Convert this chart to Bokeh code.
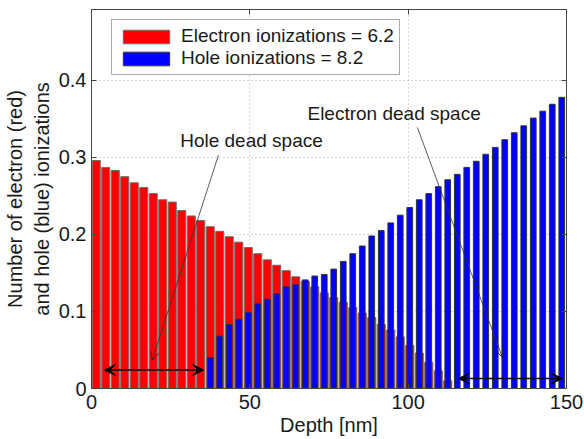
from bokeh.plotting import figure
from bokeh.models import (ColumnDataSource, Range1d, FixedTicker, LinearAxis, Legend, LegendItem,
                          Arrow, VeeHead, OpenHead, Label)
from bokeh.embed import file_html
from bokeh.resources import INLINE

# ---------------- data ----------------
depth = [1.5, 4.5, 7.5, 10.5, 13.5, 16.5, 19.5, 22.5, 25.5, 28.5,
         31.5, 34.5, 37.5, 40.5, 43.5, 46.5, 49.5, 52.5, 55.5, 58.5,
         61.5, 64.5, 67.5, 70.5, 73.5, 76.5, 79.5, 82.5, 85.5, 88.5,
         91.5, 94.5, 97.5, 100.5, 103.5, 106.5, 109.5, 112.5, 115.5, 118.5,
         121.5, 124.5, 127.5, 130.5, 133.5, 136.5, 139.5, 142.5, 145.5, 148.5]
electron = [0.296, 0.287, 0.283, 0.275, 0.267, 0.261, 0.253, 0.245, 0.242, 0.231,
            0.224, 0.218, 0.210, 0.204, 0.197, 0.190, 0.183, 0.175, 0.167, 0.160,
            0.153, 0.145, 0.139, 0.132, 0.124, 0.118, 0.112, 0.105, 0.098, 0.092,
            0.083, 0.076, 0.067, 0.056, 0.046, 0.034, 0.023, 0.010, 0.0, 0.0,
            0.0, 0.0, 0.0, 0.0, 0.0, 0.0, 0.0, 0.0, 0.0, 0.0]
hole = [0.0, 0.0, 0.0, 0.0, 0.0, 0.0, 0.0, 0.0, 0.0, 0.0,
        0.0, 0.0, 0.040, 0.068, 0.083, 0.090, 0.099, 0.110, 0.116, 0.123,
        0.132, 0.135, 0.141, 0.146, 0.148, 0.155, 0.165, 0.175, 0.185, 0.198,
        0.205, 0.215, 0.225, 0.235, 0.245, 0.253, 0.262, 0.271, 0.278, 0.287,
        0.295, 0.304, 0.313, 0.323, 0.332, 0.341, 0.351, 0.360, 0.369, 0.378]
legend_labels = ["Electron ionizations = 6.2", "Hole ionizations = 8.2"]
x_ticks = [0, 50, 100, 150]
y_ticks = [0, 0.1, 0.2, 0.3, 0.4]

# annotation anchors (data units)
hole_text = ("Hole dead space", 28.0, 0.322)
elec_text = ("Electron dead space", 68.2, 0.357)
hole_pointer = (40.1, 0.303, 19.2, 0.037)
elec_pointer = (102.9, 0.339, 129.7, 0.041)
hole_span = (4.1, 35.4, 0.024)
elec_span = (115.9, 148.7, 0.013)

FONT = "Liberation Sans"
TXT = "#1a1a1a"

src = ColumnDataSource(dict(depth=depth, electron=electron, hole=hole))

p = figure(width=584, height=439, output_backend="svg", toolbar_location=None,
           x_range=Range1d(0, 150), y_range=Range1d(0, 0.492),
           min_border_left=91, min_border_right=18, min_border_top=9, min_border_bottom=51)
p.background_fill_color = "white"
p.border_fill_color = "white"
p.outline_line_color = "#444444"
p.outline_line_width = 1

r_el = p.vbar(x="depth", top="electron", width=2.55, source=src,
              fill_color="#ff0000", line_color="#6e6e6e", line_width=1)
r_ho = p.vbar(x="depth", top="hole", width=1.8, source=src,
              fill_color="#0000ff", line_color="#333333", line_width=1)

for ax in (p.xaxis[0], p.yaxis[0]):
    ax.axis_line_color = "#444444"
    ax.major_tick_in = 5
    ax.major_tick_out = 0
    ax.minor_tick_line_color = None
    ax.major_tick_line_color = "#444444"
    ax.major_label_text_font = FONT
    ax.major_label_text_font_size = "20px"
    ax.major_label_text_color = TXT
    ax.axis_label_text_font = FONT
    ax.axis_label_text_font_size = "20px"
    ax.axis_label_text_font_style = "normal"
    ax.axis_label_text_color = TXT

p.xaxis.ticker = FixedTicker(ticks=x_ticks)
p.yaxis.ticker = FixedTicker(ticks=y_ticks)
p.xaxis.axis_label = "Depth [nm]"
p.yaxis.axis_label = "Number of electron (red)\nand hole (blue) ionizations"
p.xaxis.major_label_standoff = 6
p.yaxis.major_label_standoff = 5
p.xaxis.axis_label_standoff = 2
p.yaxis.axis_label_standoff = 3

# ticks on top / right (box on), without labels
for loc, tk in (("right", y_ticks), ("above", x_ticks)):
    ax2 = LinearAxis(ticker=FixedTicker(ticks=tk))
    ax2.major_tick_in = 5
    ax2.major_tick_out = 0
    ax2.minor_tick_line_color = None
    ax2.major_tick_line_color = "#444444"
    ax2.axis_line_color = None
    ax2.major_label_text_color = None
    ax2.major_label_text_font_size = "1px"
    ax2.major_label_standoff = 0
    p.add_layout(ax2, loc)

p.grid.grid_line_color = "#b0b0b0"
p.grid.grid_line_dash = "1 3"
p.grid.grid_line_width = 1
p.xgrid.ticker = FixedTicker(ticks=x_ticks)
p.ygrid.ticker = FixedTicker(ticks=y_ticks)

# annotations
for (t, tx, ty) in (hole_text, elec_text):
    p.add_layout(Label(x=tx, y=ty, text=t, text_font=FONT, text_font_size="19px",
                       text_color=TXT, text_baseline="middle", text_align="left"))
for (xs, ys, xe, ye) in (hole_pointer, elec_pointer):
    p.add_layout(Arrow(x_start=xs, y_start=ys, x_end=xe, y_end=ye,
                       line_color="#333333", line_width=0.8,
                       end=OpenHead(size=8, line_color="#222222", line_width=1)))
for (xs, xe, yy) in (hole_span, elec_span):
    p.add_layout(Arrow(x_start=xs, y_start=yy, x_end=xe, y_end=yy,
                       line_color="black", line_width=1.3,
                       start=VeeHead(size=11, fill_color="black", line_color="black"),
                       end=VeeHead(size=11, fill_color="black", line_color="black")))

legend = Legend(items=[LegendItem(label=legend_labels[0], renderers=[r_el]),
                       LegendItem(label=legend_labels[1], renderers=[r_ho])],
                location=(20, 313))
legend.label_text_font = FONT
legend.label_text_font_size = "19px"
legend.label_text_color = TXT
legend.glyph_width = 58
legend.glyph_height = 17
legend.label_height = 17
legend.label_standoff = 6
legend.spacing = 0
legend.padding = 5
legend.margin = 0
legend.border_line_color = "#555555"
legend.border_line_width = 1
legend.background_fill_alpha = 1
p.add_layout(legend)

open("out.html", "w").write(file_html(p, INLINE))
